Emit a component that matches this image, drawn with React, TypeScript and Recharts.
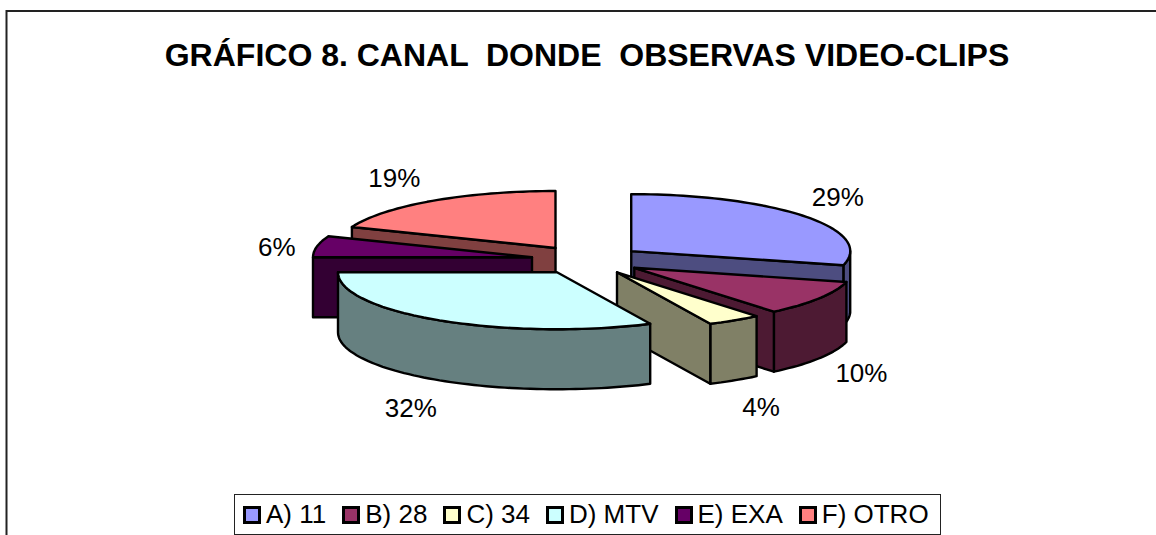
import React from 'react';
import { PieChart, Pie, Legend } from 'recharts';

const CATEGORIES = ['A) 11', 'B) 28', 'C) 34', 'D) MTV', 'E) EXA', 'F) OTRO'];
const SHARES = [29, 10, 4, 32, 6, 19];
const TOPS = ['#9999FF', '#993366', '#FFFFCC', '#CCFFFF', '#660066', '#FF8080'];
const WALLS = ['#4D4D80', '#4D1A33', '#808066', '#668080', '#330033', '#804040'];
const TITLE = 'GRÁFICO 8. CANAL  DONDE  OBSERVAS VIDEO-CLIPS';

const rows = CATEGORIES.map((name, i) => ({ name, value: SHARES[i], top: TOPS[i], wall: WALLS[i], index: i }));
// F and E sit behind A to D, and F is painted before E: a second, counter-clockwise pie draws them first
const BACK = [4, 5];
const rowsReversed = [...rows].reverse();

const W = 1156, H = 535;
const FONT = '"Liberation Sans", Arial, sans-serif';
const SQUASH = 0.26, DEPTH = 60, EXPLODE = 56;
const LABEL_NUDGE: Record<number, [number, number]> = { 0: [-6, -4], 1: [0, 5], 2: [0, -5], 3: [-2, -4], 4: [9, -16], 5: [-10, 8] };

const clock = (deg: number) => ((90 - deg) * Math.PI) / 180;

function Slice3D(props: any) {
  const { cx, cy, outerRadius: r, startAngle, endAngle, payload } = props;
  const a0 = clock(Math.max(startAngle, endAngle));
  const a1 = clock(Math.min(startAngle, endAngle));
  const mid = (a0 + a1) / 2;
  const ax = cx + EXPLODE * Math.sin(mid);
  const ay = cy - EXPLODE * SQUASH * Math.cos(mid);
  const rim = (a: number) => [ax + r * Math.sin(a), ay - r * SQUASH * Math.cos(a)];
  const [x0, y0] = rim(a0);
  const [x1, y1] = rim(a1);
  const sweepArc = (from: number, to: number, dy: number) => {
    const n = Math.max(2, Math.ceil(Math.abs(to - from) / 0.03));
    const pts: string[] = [];
    for (let k = 0; k <= n; k++) {
      const [x, y] = rim(from + ((to - from) * k) / n);
      pts.push(`${x.toFixed(1)} ${(y + dy).toFixed(1)}`);
    }
    return pts;
  };
  const common = { stroke: '#000', strokeWidth: 2.4, strokeLinejoin: 'round' as const };
  const walls: React.ReactNode[] = [];
  // rim wall: the part of the arc on the viewer's side (clock 90 to 270 degrees)
  const two = Math.PI * 2;
  for (const [lo, hi] of [[Math.PI / 2, (3 * Math.PI) / 2], [Math.PI / 2 + two, (3 * Math.PI) / 2 + two], [Math.PI / 2 - two, (3 * Math.PI) / 2 - two]]) {
    const s = Math.max(a0, lo), e = Math.min(a1, hi);
    if (e > s) {
      const d = [...sweepArc(s, e, 0), ...sweepArc(e, s, DEPTH)].join(' L ');
      walls.push(<path key={`rim${lo}`} d={`M ${d} Z`} fill={payload.wall} {...common} />);
    }
  }
  if (Math.sin(a0) < -1e-6) {
    walls.push(<path key="w0" d={`M ${ax} ${ay} L ${x0} ${y0} L ${x0} ${y0 + DEPTH} L ${ax} ${ay + DEPTH} Z`} fill={payload.wall} {...common} />);
  }
  if (Math.sin(a1) > 1e-6) {
    walls.push(<path key="w1" d={`M ${ax} ${ay} L ${x1} ${y1} L ${x1} ${y1 + DEPTH} L ${ax} ${ay + DEPTH} Z`} fill={payload.wall} {...common} />);
  }
  return (
    <g>
      {walls}
      <path d={`M ${ax} ${ay} L ${sweepArc(a0, a1, 0).join(' L ')} Z`} fill={payload.top} {...common} />
    </g>
  );
}

const BackSlice = (props: any) => (BACK.includes(props.payload.index) ? <Slice3D {...props} /> : <g />);
const FrontSlice = (props: any) => (BACK.includes(props.payload.index) ? <g /> : <Slice3D {...props} />);

function SliceLabel(props: any) {
  const { cx, cy, midAngle, percent, payload } = props;
  const a = clock(midAngle);
  const [dx, dy] = LABEL_NUDGE[payload.index];
  return (
    <text x={cx + 325 * Math.sin(a) + dx} y={cy + 30 - 145 * Math.cos(a) + dy} textAnchor="middle" dominantBaseline="central" fontFamily={FONT} fontSize={26} fill="#000">
      {`${Math.round(percent * 100)}%`}
    </text>
  );
}

function LegendBox() {
  return (
    <div style={{ display: 'flex', alignItems: 'center', height: 41, boxSizing: 'border-box', border: '1px solid #222', background: '#fff', fontFamily: FONT, fontSize: 26, color: '#000', paddingLeft: 8, whiteSpace: 'pre' }}>
      {CATEGORIES.map((c, i) => (
        <span key={c} style={{ display: 'flex', alignItems: 'center', marginRight: i < 5 ? 16 : 0 }}>
          <span style={{ width: 18, height: 18, boxSizing: 'border-box', border: '3px solid #000', background: TOPS[i], marginRight: 5 }} />
          {c}
        </span>
      ))}
    </div>
  );
}

export default function App() {
  return (
    <div style={{ position: 'absolute', left: 0, top: 0, width: W, height: H, overflow: 'hidden', background: '#fff' }}>
      <PieChart width={W} height={H} margin={{ top: 0, right: 0, bottom: 0, left: 0 }}>
        <rect x={6.5} y={11} width={1200} height={600} fill="#fff" stroke="#222" strokeWidth={2} />
        <text x={587} y={55} textAnchor="middle" dominantBaseline="central" fontFamily={FONT} fontWeight="bold" fontSize={32} fill="#000" style={{ whiteSpace: 'pre' }}>{TITLE}</text>
        <Pie
          data={rowsReversed}
          dataKey="value"
          nameKey="name"
          cx={587}
          cy={260}
          innerRadius={0}
          outerRadius={219}
          startAngle={90}
          endAngle={450}
          stroke="none"
          isAnimationActive={false}
          shape={BackSlice}
          legendType="none"
        />
        <Pie
          data={rows}
          dataKey="value"
          nameKey="name"
          cx={587}
          cy={260}
          innerRadius={0}
          outerRadius={219}
          startAngle={90}
          endAngle={-270}
          stroke="none"
          isAnimationActive={false}
          shape={FrontSlice}
          label={SliceLabel}
          labelLine={false}
        />
        <Legend content={<LegendBox />} layout="horizontal" align="left" verticalAlign="bottom" wrapperStyle={{ left: 234, top: 494, bottom: 'auto', width: 707 }} />
      </PieChart>
    </div>
  );
}
